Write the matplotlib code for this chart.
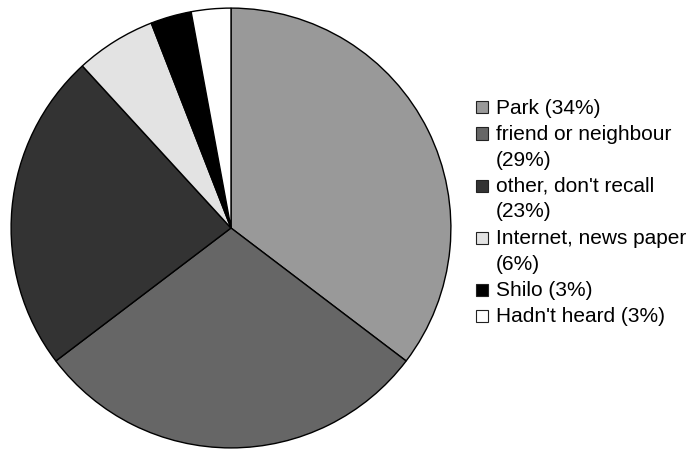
import matplotlib.pyplot as plt
from matplotlib.patches import Rectangle

plt.rcParams['font.family'] = ['Liberation Sans', 'DejaVu Sans']

# slice sizes (percent), legend labels as printed
labels = ["Park (34%)", "friend or neighbour\n(29%)", "other, don't recall\n(23%)",
          "Internet, news paper\n(6%)", "Shilo (3%)", "Hadn't heard (3%)"]
shares = [35.3, 29.3, 23.5, 5.9, 3.0, 2.9]
colors = ['#999999', '#666666', '#333333', '#e3e3e3', '#000000', '#ffffff']

W, H = 692, 452
fig = plt.figure(figsize=(W / 100, H / 100), dpi=100)

cx, cy, r = 231, 229, 221
ax = fig.add_axes([(cx - r) / W, (H - cy - r) / H, 2 * r / W, 2 * r / H])
ax.pie(shares, colors=colors, startangle=90, counterclock=False, radius=1,
       wedgeprops=dict(edgecolor='black', linewidth=1))
ax.set_xlim(-1.005, 1.005)
ax.set_ylim(-1.005, 1.005)
ax.set_aspect('equal')
ax.axis('off')

# legend drawn by hand so the box sits on the first line of wrapped labels
line_h = 25.5
y = 108
for lab, col in zip(labels, colors):
    lines = lab.split('\n')
    sq = 12
    fig.patches.append(Rectangle(((476) / W, (H - y - sq / 2) / H), sq / W, sq / H,
                                 transform=fig.transFigure, facecolor=col,
                                 edgecolor='#222222', linewidth=0.8))
    for ln in lines:
        fig.text(496 / W, (H - y) / H, ln, fontsize=15, va='center', ha='left')
        y += line_h
    y += 1

fig.savefig('out.png', dpi=100)
